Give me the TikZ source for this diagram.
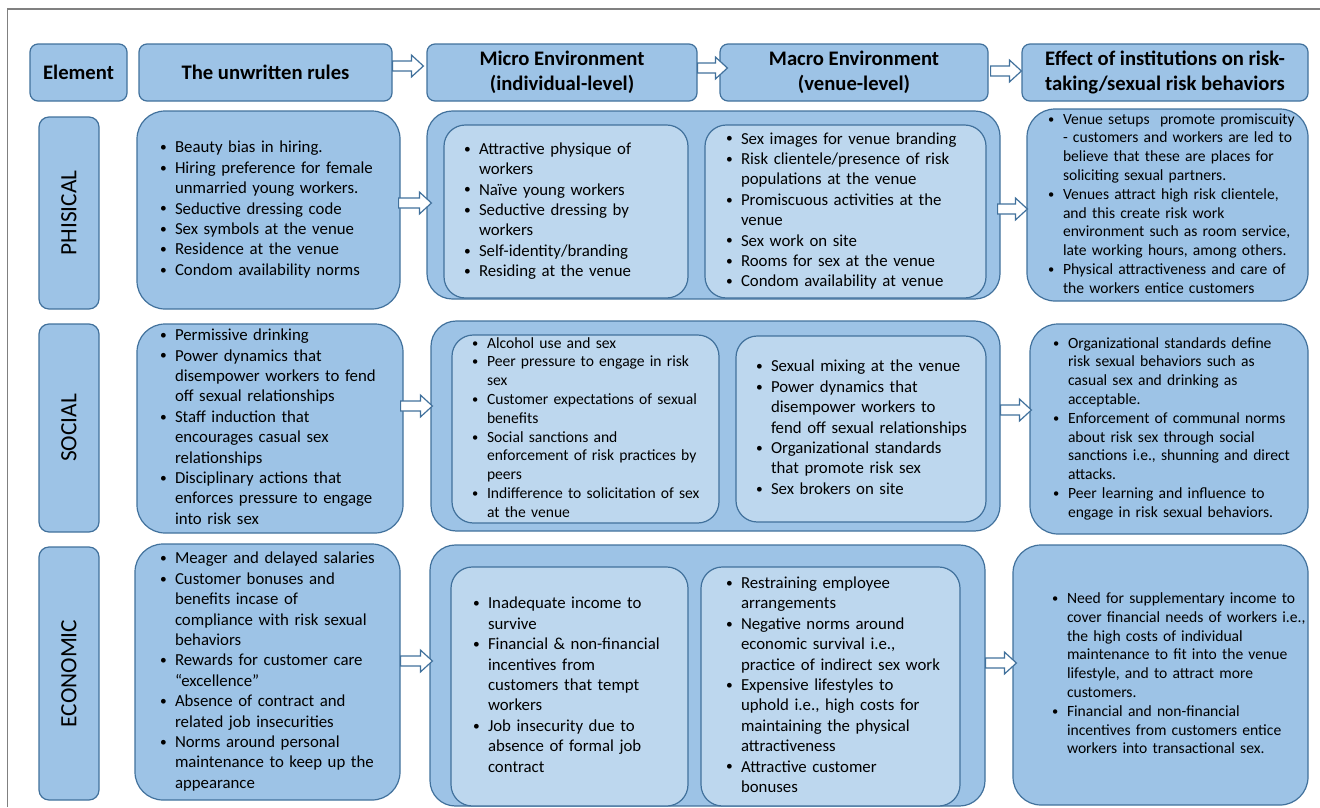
\documentclass[tikz,border=0pt]{standalone}
\usepackage{fontspec}
\setmainfont{Carlito}
\usetikzlibrary{calc}

\definecolor{boxfill}{RGB}{157,195,230}
\definecolor{innerfill}{RGB}{189,215,238}
\definecolor{boxline}{RGB}{65,113,156}
\definecolor{framegray}{RGB}{128,128,128}

% one pixel of the layout grid
\newdimen\px \px=0.75pt
\setlength{\parindent}{0pt}

% bullet lists, broken line by line
\newenvironment{blist}{\begin{tabular}{@{}p{11.25pt}@{}l@{}}}{\end{tabular}}
\newcommand{\bul}{\raisebox{0.15ex}{\scalebox{0.8}{\textbullet}} &}

\tikzset{
  every node/.style={font=\fontsize{12.6}{15.3}\selectfont},
  small/.style={font=\fontsize{11.7}{14.1}\selectfont},
  hdr/.style={draw=boxline, fill=boxfill, line width=0.9pt, rounded corners=6pt,
    minimum height=57\px, inner sep=0pt, align=center,
    font=\fontsize{15.5}{18.3}\selectfont\bfseries},
  side/.style={draw=boxline, fill=boxfill, line width=0.9pt, rounded corners=7.5pt,
    rotate=90, minimum height=60\px, inner sep=0pt,
    font=\fontsize{17.5}{20}\selectfont},
  rulebox/.style={draw=boxline, fill=boxfill, line width=0.9pt, rounded corners=21pt,
    align=left, inner ysep=0pt},
  outerbox/.style={draw=boxline, fill=boxfill, line width=0.9pt, rounded corners=19pt,
    inner sep=0pt},
  innerbox/.style={draw=boxline, fill=innerfill, line width=0.9pt, rounded corners=16pt,
    align=left, inner ysep=0pt},
  barrow/.style={draw=boxline, fill=white, line width=0.9pt,
    to path={let \p1=(\tikztostart), \p2=(\tikztotarget) in
      (\x1,{\y1+3.75pt}) -- ({\x2-9pt},{\y1+3.75pt}) -- ({\x2-9pt},{\y1+8.25pt})
      -- (\x2,\y1) -- ({\x2-9pt},{\y1-8.25pt}) -- ({\x2-9pt},{\y1-3.75pt})
      -- (\x1,{\y1-3.75pt}) -- cycle}}
}

\begin{document}
\begin{tikzpicture}[x=0.75pt, y=-0.75pt]
  \useasboundingbox (0,0) rectangle (1320,807);
  \draw[framegray, line width=1.1pt] (7.5,807) -- (7.5,9) -- (1320,9);

  % column heads
  \node[hdr, minimum width=97\px] (hElem) at (78.5,72.5) {Element};
  \node[hdr, minimum width=253\px] (hRules) at (265.5,72.5) {The unwritten rules};
  \node[hdr, minimum width=270\px] (hMicro) at (562,72.5) {Micro Environment\\(individual-level)};
  \node[hdr, minimum width=268\px] (hMacro) at (854,72.5) {Macro Environment\\(venue-level)};
  \node[hdr, minimum width=286\px] (hEffect) at (1165,72.5) {Effect of institutions on risk-\\taking/sexual risk behaviors};

  % row labels
  \node[side, minimum width=192\px] (sPhys) at (69,213) {PHISICAL};
  \node[side, minimum width=208\px] (sSoc) at (69,428) {SOCIAL};
  \node[side, minimum width=253\px] (sEcon) at (69,673.5) {ECONOMIC};

  % physical
  \node[rulebox, minimum height=198\px, inner xsep=23\px, text width=217\px] (rPhys) at (268.5,210) {%
    \begin{blist}
    \bul Beauty bias in hiring.\\
    \bul Hiring preference for female\\
    & unmarried young workers.\\
    \bul Seductive dressing code\\
    \bul Sex symbols at the venue\\
    \bul Residence at the venue\\
    \bul Condom availability norms
    \end{blist}};
  \node[outerbox, minimum width=573\px, minimum height=188\px] (mPhys) at (713.5,205) {};
  \node[innerbox, minimum height=173\px, inner xsep=20\px, text width=204\px] (iPhysL) at (566,211.5) {%
    \begin{blist}
    \bul Attractive physique of\\
    & workers\\
    \bul Naïve young workers\\
    \bul Seductive dressing by\\
    & workers\\
    \bul Self-identity/branding\\
    \bul Residing at the venue
    \end{blist}};
  \node[innerbox, minimum height=173\px, inner xsep=21\px, text width=239\px] (iPhysR) at (845.5,211.5) {%
    \begin{blist}
    \bul Sex images for venue branding\\
    \bul Risk clientele/presence of risk\\
    & populations at the venue\\
    \bul Promiscuous activities at the\\
    & venue\\
    \bul Sex work on site\\
    \bul Rooms for sex at the venue\\
    \bul Condom availability at venue
    \end{blist}};
  \node[rulebox, small, minimum height=192\px, inner xsep=21\px, text width=239\px] (ePhys) at (1167.5,205) {%
    \begin{blist}
    \bul Venue setups\ \ promote promiscuity\\
    & - customers and workers are led to\\
    & believe that these are places for\\
    & soliciting sexual partners.\\
    \bul Venues attract high risk clientele,\\
    & and this create risk work\\
    & environment such as room service,\\
    & late working hours, among others.\\
    \bul Physical attractiveness and care of\\
    & the workers entice customers
    \end{blist}};

  % social
  \node[rulebox, minimum height=209\px, inner xsep=23\px, text width=220\px] (rSoc) at (270,428.5) {%
    \begin{blist}
    \bul Permissive drinking\\
    \bul Power dynamics that\\
    & disempower workers to fend\\
    & off sexual relationships\\
    \bul Staff induction that\\
    & encourages casual sex\\
    & relationships\\
    \bul Disciplinary actions that\\
    & enforces pressure to engage\\
    & into risk sex
    \end{blist}};
  \node[outerbox, minimum width=569\px, minimum height=210\px] (mSoc) at (715.5,426) {};
  \node[innerbox, small, minimum height=186\px, inner xsep=20\px, text width=227\px] (iSocL) at (585.5,429) {%
    \begin{blist}
    \bul Alcohol use and sex\\
    \bul Peer pressure to engage in risk\\
    & sex\\
    \bul Customer expectations of sexual\\
    & benefits\\
    \bul Social sanctions and\\
    & enforcement of risk practices by\\
    & peers\\
    \bul Indifference to solicitation of sex\\
    & at the venue
    \end{blist}};
  \node[innerbox, minimum height=186\px, inner xsep=20\px, text width=210\px] (iSocR) at (861,429) {%
    \begin{blist}
    \bul Sexual mixing at the venue\\
    \bul Power dynamics that\\
    & disempower workers to\\
    & fend off sexual relationships\\
    \bul Organizational standards\\
    & that promote risk sex\\
    \bul Sex brokers on site
    \end{blist}};
  \node[rulebox, small, minimum height=210\px, inner xsep=23\px, text width=232\px] (eSoc) at (1169,429) {%
    \begin{blist}
    \bul Organizational standards define\\
    & risk sexual behaviors such as\\
    & casual sex and drinking as\\
    & acceptable.\\
    \bul Enforcement of communal norms\\
    & about risk sex through social\\
    & sanctions i.e., shunning and direct\\
    & attacks.\\
    \bul Peer learning and influence to\\
    & engage in risk sexual behaviors.
    \end{blist}};

  % economic
  \node[rulebox, minimum height=256\px, inner xsep=25\px, text width=215\px] (rEcon) at (267.5,672) {%
    \begin{blist}
    \bul Meager and delayed salaries\\
    \bul Customer bonuses and\\
    & benefits incase of\\
    & compliance with risk sexual\\
    & behaviors\\
    \bul Rewards for customer care\\
    & “excellence”\\
    \bul Absence of contract and\\
    & related job insecurities\\
    \bul Norms around personal\\
    & maintenance to keep up the\\
    & appearance
    \end{blist}};
  \node[outerbox, minimum width=555\px, minimum height=261\px] (mEcon) at (707.5,675.5) {};
  \node[innerbox, minimum height=239\px, inner xsep=22\px, text width=193\px] (iEconL) at (569.5,686.5) {%
    \begin{blist}
    \bul Inadequate income to\\
    & survive\\
    \bul Financial \& non-financial\\
    & incentives from\\
    & customers that tempt\\
    & workers\\
    \bul Job insecurity due to\\
    & absence of formal job\\
    & contract
    \end{blist}};
  \node[innerbox, minimum height=239\px, inner xsep=25\px, text width=209\px] (iEconR) at (830.5,686.5) {%
    \begin{blist}
    \bul Restraining employee\\
    & arrangements\\
    \bul Negative norms around\\
    & economic survival i.e.,\\
    & practice of indirect sex work\\
    \bul Expensive lifestyles to\\
    & uphold i.e., high costs for\\
    & maintaining the physical\\
    & attractiveness\\
    \bul Attractive customer\\
    & bonuses
    \end{blist}};
  \node[rulebox, small, minimum height=260\px, inner xsep=39\px, text width=217\px] (eEcon) at (1160.5,675) {%
    \begin{blist}
    \bul Need for supplementary income to\\
    & cover financial needs of workers i.e.,\\
    & the high costs of individual\\
    & maintenance to fit into the venue\\
    & lifestyle, and to attract more\\
    & customers.\\
    \bul Financial and non-financial\\
    & incentives from customers entice\\
    & workers into transactional sex.
    \end{blist}};

  % block arrows
  \draw[barrow] ([yshift=6.5\px]hRules.east) to ([xshift=-3\px]hMicro.west);
  \draw[barrow] ([yshift=4.5\px]hMicro.east) to ([xshift=8\px]hMacro.west);
  \draw[barrow] ([xshift=2\px,yshift=1.5\px]hMacro.east) to (hEffect.west);
  \draw[barrow] ([xshift=-2\px,yshift=7\px]rPhys.east) to ([xshift=5\px]mPhys.west);
  \draw[barrow] ([xshift=-3\px,yshift=-4\px]mPhys.east) to ([xshift=1\px]ePhys.west);
  \draw[barrow] ([xshift=-3\px,yshift=22.5\px]rSoc.east) to ([xshift=2\px]mSoc.west);
  \draw[barrow] ([yshift=16\px]mSoc.east) to ([xshift=2\px]eSoc.west);
  \draw[barrow] ([yshift=11\px]rEcon.east) to ([xshift=3\px]mEcon.west);
  \draw[barrow] ([yshift=12.5\px]mEcon.east) to ([xshift=4\px]eEcon.west);
\end{tikzpicture}
\end{document}
